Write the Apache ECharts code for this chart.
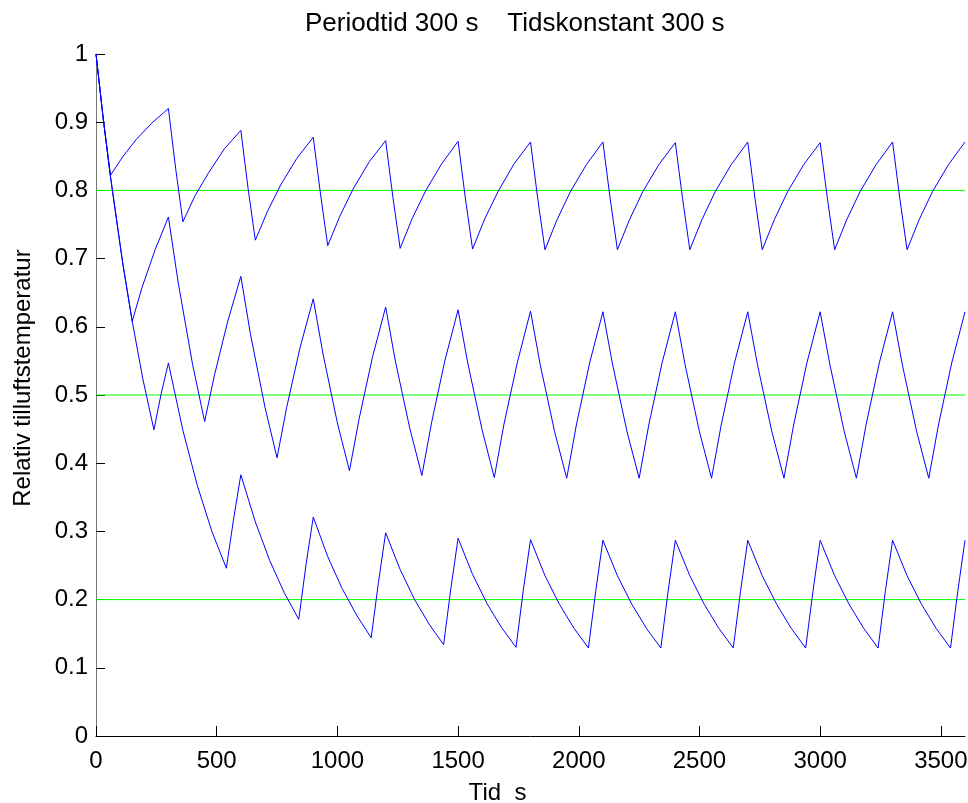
<!DOCTYPE html>
<html>
<head>
<meta charset="utf-8">
<script src="https://cdn.jsdelivr.net/npm/echarts@6/dist/echarts.min.js"></script>
<style>
html,body{margin:0;padding:0;background:#fff;}
#c{width:968px;height:803px;}
</style>
</head>
<body>
<div id="c"></div>
<script>
// Tick positions
const xTicks = [0, 500, 1000, 1500, 2000, 2500, 3000, 3500];
const yTicks = [0, 0.1, 0.2, 0.3, 0.4, 0.5, 0.6, 0.7, 0.8, 0.9, 1];
// Reference (set-point) levels, green lines
const refLevels = [0.8, 0.5, 0.2];
const refSpan = [0, 3600];

// Response with set-point 0.8  [time s, relative temperature]
const s1 = [
  [0,1.000],[30,0.905],[60,0.822],[110,0.849],[165,0.874],[232,0.899],[300,0.920],
  [330,0.832],[360,0.754],[410,0.792],[465,0.825],[532,0.861],[600,0.888],
  [630,0.803],[660,0.727],[710,0.769],[765,0.808],[832,0.847],[900,0.878],
  [930,0.795],[960,0.719],[1010,0.762],[1065,0.802],[1132,0.842],[1200,0.873],
  [1230,0.790],[1260,0.715],[1310,0.759],[1365,0.799],[1432,0.839],[1500,0.872],
  [1530,0.789],[1560,0.714],[1610,0.758],[1665,0.798],[1732,0.839],[1800,0.871],
  [1830,0.788],[1860,0.713],[1910,0.757],[1965,0.798],[2032,0.838],[2100,0.871],
  [2130,0.788],[2160,0.713],[2210,0.757],[2265,0.798],[2332,0.838],[2400,0.870],
  [2430,0.788],[2460,0.713],[2510,0.757],[2565,0.798],[2632,0.838],[2700,0.871],
  [2730,0.788],[2760,0.713],[2810,0.757],[2865,0.798],[2932,0.838],[3000,0.870],
  [3030,0.788],[3060,0.713],[3110,0.757],[3165,0.798],[3232,0.838],[3300,0.871],
  [3330,0.788],[3360,0.713],[3410,0.757],[3465,0.798],[3532,0.838],[3600,0.871]
];

// Response with set-point 0.5
const s2 = [
  [0,1.000],[30,0.905],[60,0.820],[110,0.695],[150,0.608],[190,0.657],[245,0.713],[300,0.761],
  [340,0.666],[400,0.545],[450,0.461],[490,0.528],[545,0.607],[600,0.674],
  [640,0.589],[700,0.482],[750,0.408],[790,0.482],[845,0.569],[900,0.641],
  [940,0.561],[1000,0.459],[1050,0.389],[1090,0.465],[1145,0.555],[1200,0.629],
  [1240,0.550],[1300,0.451],[1350,0.382],[1390,0.459],[1445,0.550],[1500,0.625],
  [1540,0.547],[1600,0.448],[1650,0.379],[1690,0.457],[1745,0.547],[1800,0.623],
  [1840,0.545],[1900,0.446],[1950,0.378],[1990,0.456],[2045,0.547],[2100,0.622],
  [2140,0.545],[2200,0.446],[2250,0.378],[2290,0.456],[2345,0.547],[2400,0.622],
  [2440,0.545],[2500,0.446],[2550,0.378],[2590,0.456],[2645,0.547],[2700,0.622],
  [2740,0.545],[2800,0.446],[2850,0.378],[2890,0.456],[2945,0.547],[3000,0.622],
  [3040,0.545],[3100,0.446],[3150,0.378],[3190,0.456],[3245,0.547],[3300,0.622],
  [3340,0.545],[3400,0.446],[3450,0.378],[3490,0.456],[3545,0.547],[3600,0.622]
];

// Response with set-point 0.2
const s3 = [
  [0,1.000],[30,0.905],[60,0.820],[110,0.695],[150,0.608],[195,0.522],[240,0.449],[270,0.502],[300,0.547],
  [360,0.448],[420,0.367],[480,0.300],[540,0.246],[570,0.318],[600,0.383],
  [660,0.314],[720,0.257],[780,0.210],[840,0.171],[870,0.251],[900,0.321],
  [960,0.263],[1020,0.216],[1080,0.177],[1140,0.144],[1170,0.225],[1200,0.298],
  [1260,0.244],[1320,0.200],[1380,0.164],[1440,0.134],[1470,0.216],[1500,0.290],
  [1560,0.237],[1620,0.194],[1680,0.159],[1740,0.130],[1770,0.213],[1800,0.288],
  [1860,0.235],[1920,0.193],[1980,0.158],[2040,0.129],[2070,0.212],[2100,0.287],
  [2160,0.235],[2220,0.193],[2280,0.158],[2340,0.129],[2370,0.212],[2400,0.287],
  [2460,0.235],[2520,0.193],[2580,0.158],[2640,0.129],[2670,0.212],[2700,0.287],
  [2760,0.235],[2820,0.193],[2880,0.158],[2940,0.129],[2970,0.212],[3000,0.287],
  [3060,0.235],[3120,0.193],[3180,0.158],[3240,0.129],[3270,0.212],[3300,0.287],
  [3360,0.235],[3420,0.193],[3480,0.158],[3540,0.129],[3570,0.212],[3600,0.287]
];

const font = '"Liberation Sans", Arial, Helvetica, sans-serif';
const chart = echarts.init(document.getElementById('c'), null, {renderer: 'canvas'});

const refSeries = refLevels.map(function (lvl) {
  return {
    type: 'line', symbol: 'none', silent: true,
    data: refSpan.map(function (t) { return [t, lvl]; }),
    lineStyle: {color: '#00ff00', width: 1},
    z: 2
  };
});
const blueSeries = [s1, s2, s3].map(function (d) {
  return {
    type: 'line', symbol: 'none', silent: true,
    data: d,
    lineStyle: {color: '#0000ff', width: 1},
    z: 3
  };
});

chart.setOption({
  animation: false,
  backgroundColor: '#ffffff',
  title: {
    text: 'Periodtid 300 s    Tidskonstant 300 s',
    left: 300, top: 6,
    textStyle: {fontFamily: font, fontSize: 26, fontWeight: 'normal', color: '#000'}
  },
  grid: {left: 96, right: 3, top: 54, bottom: 67, containLabel: false, outerBoundsMode: 'none'},
  xAxis: {
    type: 'value', min: 0, max: 3600,
    name: 'Tid  s', nameLocation: 'middle', nameGap: 45,
    nameTextStyle: {fontFamily: font, fontSize: 24, color: '#000', padding: [0, 66, 0, 0]},
    axisLine: {show: true, onZero: false, lineStyle: {color: '#000', width: 1}},
    axisTick: {show: true, inside: true, length: 10, customValues: xTicks, lineStyle: {color: '#000', width: 1}},
    axisLabel: {show: true, customValues: xTicks, margin: 13, fontFamily: font, fontSize: 24, color: '#000',
      hideOverlap: false, alignMinLabel: 'center', alignMaxLabel: 'center',
      formatter: function (v) { return String(Math.round(v)); }},
    splitLine: {show: false}
  },
  yAxis: {
    type: 'value', min: 0, max: 1,
    name: 'Relativ tilluftstemperatur', nameLocation: 'middle', nameGap: 61, nameRotate: 90,
    nameTextStyle: {fontFamily: font, fontSize: 24, color: '#000', padding: [0, 0, 0, 34]},
    axisLine: {show: true, onZero: false, lineStyle: {color: '#777', width: 1}},
    axisTick: {show: true, inside: true, length: 9, customValues: yTicks, lineStyle: {color: '#000', width: 1}},
    axisLabel: {show: true, customValues: yTicks, margin: 8, fontFamily: font, fontSize: 24, color: '#000',
      hideOverlap: false, verticalAlignMinLabel: 'middle', verticalAlignMaxLabel: 'middle',
      formatter: function (v) { return String(Math.round(v * 10) / 10); }},
    splitLine: {show: false}
  },
  series: refSeries.concat(blueSeries)
});
</script>
</body>
</html>
